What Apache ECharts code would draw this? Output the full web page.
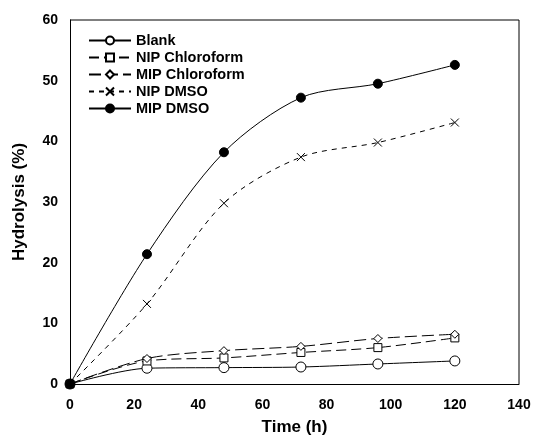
<!DOCTYPE html>
<html>
<head>
<meta charset="utf-8">
<script src="https://cdn.jsdelivr.net/npm/echarts@6/dist/echarts.min.js"></script>
<style>
  html, body { margin: 0; padding: 0; background: #fff; }
  #chart { width: 533px; height: 437px; }
</style>
</head>
<body>
<div id="chart"></div>
<script>
// Hydrolysis over time for each preparation
const times = [0, 24, 48, 72, 96, 120];
const blank = [0, 2.6, 2.7, 2.8, 3.3, 3.8];
const nipChloroform = [0, 3.8, 4.3, 5.2, 6.0, 7.6];
const mipChloroform = [0, 4.2, 5.5, 6.2, 7.5, 8.2];
const nipDmso = [0, 13.2, 29.8, 37.4, 39.8, 43.1];
const mipDmso = [0, 21.4, 38.2, 47.2, 49.5, 52.6];

const xTicks = [0, 20, 40, 60, 80, 100, 120, 140];
const yTicks = [0, 10, 20, 30, 40, 50, 60];

const FONT = '"Liberation Sans", Arial, sans-serif';
const crossPath = 'path://M0,0L10,10M10,0L0,10';

function pairs(vals) {
  return times.map((t, i) => [t, vals[i]]);
}

function makeSeries(name, vals, opts) {
  return {
    name: name,
    type: 'line',
    data: pairs(vals),
    smooth: 0.3,
    symbol: opts.symbol,
    symbolSize: opts.size,
    showAllSymbol: true,
    lineStyle: { color: '#000', width: 1, type: opts.dash },
    itemStyle: {
      color: opts.fill,
      borderColor: '#000',
      borderWidth: 1
    },
    emphasis: { disabled: true },
    z: opts.z
  };
}

const chart = echarts.init(document.getElementById('chart'), null, { renderer: 'canvas' });

chart.setOption({
  animation: false,
  backgroundColor: '#fff',
  grid: { left: 70, right: 14, top: 20, bottom: 53, containLabel: false, outerBoundsMode: 'none' },
  legend: {
    orient: 'vertical',
    left: 83,
    top: 28,
    itemWidth: 42,
    itemHeight: 10,
    itemGap: 2,
    textStyle: { fontFamily: FONT, fontWeight: 'bold', fontSize: 14.5, color: '#000' },
    data: ['Blank', 'NIP Chloroform', 'MIP Chloroform', 'NIP DMSO', 'MIP DMSO']
  },
  xAxis: {
    type: 'value',
    min: xTicks[0],
    max: xTicks[xTicks.length - 1],
    interval: 20,
    name: 'Time (h)',
    nameLocation: 'middle',
    nameGap: 35,
    nameTextStyle: { fontFamily: FONT, fontWeight: 'bold', fontSize: 17, color: '#000' },
    axisLine: { show: true, onZero: false, lineStyle: { color: '#000', width: 1 } },
    axisTick: { show: false },
    splitLine: { show: false },
    axisLabel: { fontFamily: FONT, fontWeight: 'bold', fontSize: 14, color: '#000', margin: 14 }
  },
  yAxis: {
    type: 'value',
    min: yTicks[0],
    max: yTicks[yTicks.length - 1],
    interval: 10,
    name: 'Hydrolysis (%)',
    nameLocation: 'middle',
    nameGap: 42,
    nameTextStyle: { fontFamily: FONT, fontWeight: 'bold', fontSize: 17, color: '#000' },
    axisLine: { show: true, onZero: false, lineStyle: { color: '#000', width: 1 } },
    axisTick: { show: false },
    splitLine: { show: false },
    axisLabel: { fontFamily: FONT, fontWeight: 'bold', fontSize: 14, color: '#000', margin: 12 }
  },
  graphic: [
    // plot frame: top and right edges
    {
      type: 'polyline',
      shape: { points: [[70, 20], [519, 20], [519, 384]] },
      style: { stroke: '#000', lineWidth: 1, fill: null },
      silent: true
    }
  ],
  series: [
    makeSeries('Blank', blank, { symbol: 'circle', size: 10, fill: '#fff', dash: 'solid', z: 2 }),
    makeSeries('NIP Chloroform', nipChloroform, { symbol: 'rect', size: 8, fill: '#fff', dash: [10, 5], z: 3 }),
    makeSeries('MIP Chloroform', mipChloroform, { symbol: 'diamond', size: 8, fill: '#fff', dash: [12, 5], z: 4 }),
    makeSeries('NIP DMSO', nipDmso, { symbol: crossPath, size: 8, fill: 'transparent', dash: [5, 5], z: 5 }),
    makeSeries('MIP DMSO', mipDmso, { symbol: 'circle', size: 9, fill: '#000', dash: 'solid', z: 6 })
  ]
});
</script>
</body>
</html>
